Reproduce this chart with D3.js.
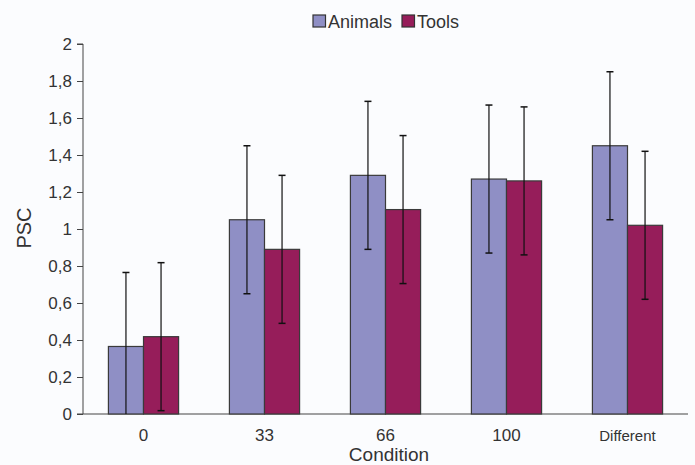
<!DOCTYPE html>
<html>
<head>
<meta charset="utf-8">
<script src="https://cdn.jsdelivr.net/npm/d3@7/dist/d3.min.js"></script>
<style>
  html, body { margin: 0; padding: 0; background: #fbfcfe; }
  svg { display: block; font-family: "Liberation Sans", Arial, Helvetica, sans-serif; }
</style>
</head>
<body>
<svg id="chart" width="695" height="465"></svg>
<script>
const categories = ["0", "33", "66", "100", "Different"];
const seriesNames = ["Animals", "Tools"];
const animals = [0.365, 1.05, 1.29, 1.27, 1.45];
const tools = [0.418, 0.89, 1.105, 1.26, 1.02];
const animalsErr = [0.4, 0.4, 0.4, 0.4, 0.4];
const toolsErr = [0.4, 0.4, 0.4, 0.4, 0.4];
const yTicks = [0, 0.2, 0.4, 0.6, 0.8, 1, 1.2, 1.4, 1.6, 1.8, 2];
const colors = ["#8f8fc5", "#961d5a"];

const svg = d3.select("#chart");
const mLeft = 83, mRight = 688, mTop = 44, mBottom = 414;

const x = d3.scaleBand().domain(categories).range([mLeft, mRight]).paddingInner(0.42).paddingOuter(0.21);
const xs = d3.scaleBand().domain(seriesNames).range([0, x.bandwidth()]);
const y = d3.scaleLinear().domain([0, 2]).range([mBottom, mTop]);

const fmt = d => String(d).replace(".", ",");

// y axis
const yAxis = svg.append("g").attr("transform", `translate(${mLeft},0)`)
  .call(d3.axisLeft(y).tickValues(yTicks).tickSize(6).tickPadding(5).tickFormat(fmt));
yAxis.select(".domain").attr("stroke", "#444").attr("d", `M-6,${mTop}H0V${mBottom}`);
yAxis.selectAll(".tick line").attr("stroke", "#444");
yAxis.selectAll(".tick text").attr("font-size", 17).attr("fill", "#333")
  .attr("font-family", "Liberation Sans, Arial, sans-serif");

// x axis line
svg.append("line").attr("x1", mLeft - 6).attr("x2", mRight).attr("y1", mBottom).attr("y2", mBottom)
  .attr("stroke", "#444").attr("stroke-width", 1);

// x labels
svg.append("g").selectAll("text").data(categories).join("text")
  .attr("x", d => x(d) + x.bandwidth() / 2)
  .attr("y", 441)
  .attr("text-anchor", "middle")
  .attr("font-size", d => d === "Different" ? 15 : 17)
  .attr("fill", "#333")
  .text(d => d);

const data = [
  { name: "Animals", values: animals, errs: animalsErr, color: colors[0] },
  { name: "Tools", values: tools, errs: toolsErr, color: colors[1] }
];

data.forEach(s => {
  const g = svg.append("g");
  g.selectAll("rect").data(categories).join("rect")
    .attr("x", (c) => x(c) + xs(s.name))
    .attr("y", (c, i) => y(s.values[i]))
    .attr("width", xs.bandwidth())
    .attr("height", (c, i) => y(0) - y(s.values[i]))
    .attr("fill", s.color)
    .attr("stroke", "#3a3a3a")
    .attr("stroke-width", 1.2);
});

data.forEach(s => {
  const g = svg.append("g");
  categories.forEach((c, i) => {
    const cx = x(c) + xs(s.name) + xs.bandwidth() / 2;
    const hi = s.values[i] + s.errs[i];
    const lo = Math.max(0, s.values[i] - s.errs[i]);
    g.append("line").attr("x1", cx).attr("x2", cx).attr("y1", y(hi)).attr("y2", y(lo))
      .attr("stroke", "#111").attr("stroke-width", 1.2);
    g.append("line").attr("x1", cx - 3.5).attr("x2", cx + 3.5).attr("y1", y(hi)).attr("y2", y(hi))
      .attr("stroke", "#111").attr("stroke-width", 1.5);
    if (s.values[i] - s.errs[i] > 0) {
      g.append("line").attr("x1", cx - 3.5).attr("x2", cx + 3.5).attr("y1", y(lo)).attr("y2", y(lo))
        .attr("stroke", "#111").attr("stroke-width", 1.5);
    }
  });
});

// axis titles
svg.append("text").attr("x", 389).attr("y", 461).attr("text-anchor", "middle")
  .attr("font-size", 19).attr("fill", "#333").text("Condition");
svg.append("text").attr("transform", "translate(31,228) rotate(-90)").attr("text-anchor", "middle")
  .attr("font-size", 20).attr("fill", "#333").text("PSC");

// legend
const legend = [{ name: "Animals", x: 313 }, { name: "Tools", x: 402 }];
legend.forEach((l, i) => {
  svg.append("rect").attr("x", l.x).attr("y", 15).attr("width", 12.5).attr("height", 12)
    .attr("fill", colors[i]).attr("stroke", "#333").attr("stroke-width", 1.2);
  svg.append("text").attr("x", l.x + 15).attr("y", 27.5).attr("font-size", 18).attr("fill", "#333").text(l.name);
});
</script>
</body>
</html>
